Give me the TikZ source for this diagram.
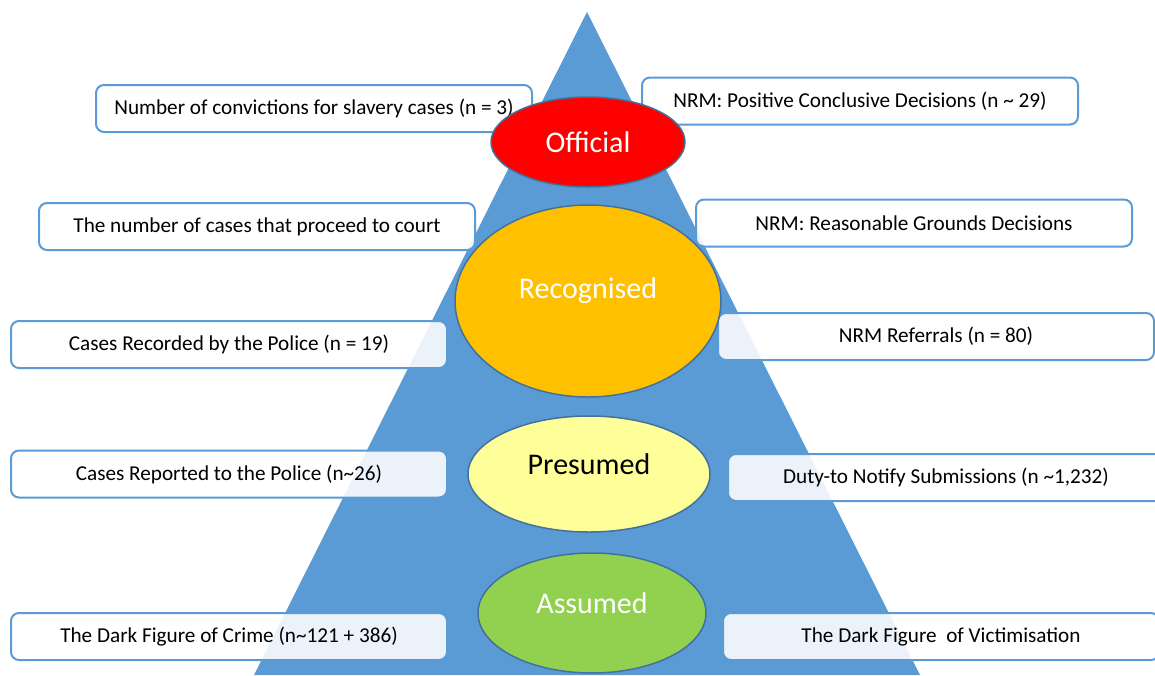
\documentclass[tikz,border=0pt]{standalone}
\usepackage{fontspec}
\setmainfont{Carlito}
\usepackage{xcolor}
\usetikzlibrary{shapes.geometric}
\definecolor{pyrblue}{HTML}{5B9BD5}
\definecolor{rimblue}{HTML}{41719C}
\definecolor{offred}{HTML}{FF0000}
\definecolor{recorange}{HTML}{FFC000}
\definecolor{preyellow}{HTML}{FFFF99}
\definecolor{assgreen}{HTML}{92D050}

\begin{document}
\begin{tikzpicture}[x=0.5pt,y=-0.5pt,
    infobox/.style={draw=pyrblue,line width=1pt,rounded corners=4pt,fill=white,fill opacity=0.88,text opacity=1,
        minimum width=218pt,minimum height=23.5pt,inner sep=0pt,font=\fontsize{10.6}{12}\selectfont},
    level/.style={ellipse,draw=rimblue,line width=0.75pt,inner sep=0pt},
    lvltext/.style={font=\fontsize{15}{18}\selectfont}]
        \useasboundingbox (0,0) rectangle (1155,675);
        % Pyramid
        \fill[pyrblue] (587,12) -- (920,675) -- (254,675) -- cycle;
        % Left column
        \node[infobox] (convictions) at (314,108.5) {Number of convictions for slavery cases (n = 3)};
        \node[infobox] (court) at (257,226.5) {The number of cases that proceed to court};
        \node[infobox] (recorded) at (229,344.5) {Cases Recorded by the Police (n = 19)};
        \node[infobox] (reported) at (229,474) {Cases Reported to the Police (n\textasciitilde26)};
        \node[infobox] (crime) at (229,636.5) {The Dark Figure of Crime (n\textasciitilde121 + 386)};
        % Right column
        \node[infobox] (positive) at (860,101) {NRM: Positive Conclusive Decisions (n \textasciitilde{} 29)};
        \node[infobox] (grounds) at (914,223) {NRM: Reasonable Grounds Decisions};
        \node[infobox] (referrals) at (936,336.5) {NRM Referrals (n = 80)};
        \node[infobox] (notify) at (946,477.5) {Duty-to Notify Submissions (n \textasciitilde1,232)};
        \node[infobox] (victim) at (941,636.5) {The Dark Figure\ \ of Victimisation};
        % Levels
        \node[level,fill=offred,minimum width=97pt,minimum height=45pt] (official) at (588,142) {};
        \node[level,fill=recorange,minimum width=133pt,minimum height=96pt] (recognised) at (588,301) {};
        \node[level,fill=preyellow,minimum width=121pt,minimum height=58pt] (presumed) at (589,474) {};
        \node[level,fill=assgreen,minimum width=114pt,minimum height=60pt] (assumed) at (592,613) {};
        % Level names
        \node[lvltext,text=white] at (official.center) {Official};
        \node[lvltext,text=white] at (588,291) {Recognised};
        \node[lvltext] at (589,464) {Presumed};
        \node[lvltext,text=white] at (592,603) {Assumed};
    \end{tikzpicture}
\end{document}
